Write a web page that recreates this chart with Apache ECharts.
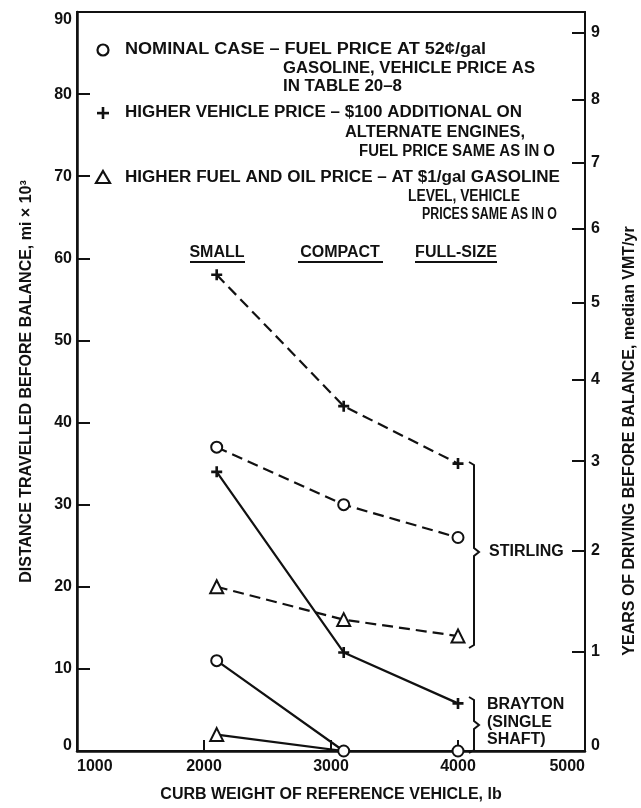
<!DOCTYPE html>
<html>
<head>
<meta charset="utf-8">
<script src="https://cdn.jsdelivr.net/npm/echarts@6/dist/echarts.min.js"></script>
<style>
html,body{margin:0;padding:0;background:#fff;}
#chart{width:641px;height:808px;}
</style>
</head>
<body>
<div id="chart"></div>
<script>
// ---- data ----
const curbWeights = [2100, 3100, 4000];
const stirlingHigherVehiclePrice = [58, 42, 35];
const stirlingNominal = [37, 30, 26];
const stirlingHigherFuelPrice = [20, 16, 14];
const braytonHigherVehiclePrice = [34, 12, 5.8];
const braytonNominal = [11, 0, 0];
const braytonHigherFuelPrice = [2, 0, 0];

const xTickValues = [1000, 2000, 3000, 4000, 5000];
const leftTickValues = [0, 10, 20, 30, 40, 50, 60, 70, 80, 90];
const rightTickYears = [0, 1, 2, 3, 4, 5, 6, 7, 8, 9];
const rightTickDistance = [0, 12.1, 24.4, 35.3, 45.2, 54.6, 63.6, 71.7, 79.3, 87.5];

const FONT = 'Liberation Sans';
const FONTSPEC = 'bold 16px "' + FONT + '"';
const INK = '#111';
const PLUS = 'path://M3.8,0H6.2V3.8H10V6.2H6.2V10H3.8V6.2H0V3.8H3.8Z';

function pairs(ys) { return curbWeights.map((x, i) => [x, ys[i]]); }

function mkSeries(name, ys, dashed, symbol) {
  return {
    name: name,
    type: 'line',
    data: pairs(ys),
    xAxisIndex: 0,
    yAxisIndex: 0,
    symbol: symbol,
    symbolSize: symbol === 'emptyTriangle' ? 13 : 11,
    showSymbol: true,
    lineStyle: { color: INK, width: 2.2, type: dashed ? [11, 6] : 'solid' },
    itemStyle: { color: INK, borderWidth: 2 },
    emphasis: { disabled: true },
    animation: false,
    z: 3
  };
}

const measureCtx = document.createElement('canvas').getContext('2d');
measureCtx.font = FONTSPEC;

// text stretched to span [x0, x1]
function spanText(s, x0, x1, y) {
  const w = measureCtx.measureText(s).width;
  return {
    type: 'text', x: x0, y: y, scaleX: (x1 - x0) / w, originX: 0, originY: 0,
    style: { text: s, font: FONTSPEC, fill: INK, verticalAlign: 'middle', align: 'left' }
  };
}
function txt(s, x, y, align) {
  return { type: 'text', x: x, y: y,
    style: { text: s, font: FONTSPEC, fill: INK, verticalAlign: 'middle', align: align || 'left' } };
}

const chart = echarts.init(document.getElementById('chart'), null, { renderer: 'canvas' });

const braytonFuelSeries = mkSeries('Brayton higher fuel', braytonHigherFuelPrice, false, 'emptyTriangle');
braytonFuelSeries.symbol = function (v) { return v[1] === 0 ? 'none' : 'emptyTriangle'; };

const labelStyle = { fontFamily: FONT, fontWeight: 'bold', fontSize: 16, color: INK };
const zeroRich = { z: { fontFamily: FONT, fontWeight: 'bold', fontSize: 16, color: INK, padding: [0, 0, 10, 0] } };

const option = {
  backgroundColor: '#fff',
  animation: false,
  grid: { left: 77, right: 56, top: 12, bottom: 55, show: true, borderColor: INK, borderWidth: 1.8 },
  xAxis: [{
    type: 'value', min: 1000, max: 5000, interval: 1000,
    name: 'CURB WEIGHT OF REFERENCE VEHICLE, lb',
    nameLocation: 'middle', nameGap: 36,
    nameTextStyle: labelStyle,
    axisLine: { lineStyle: { color: INK, width: 2.5 } },
    axisTick: { inside: true, length: 11, lineStyle: { color: INK, width: 2 } },
    splitLine: { show: false },
    axisLabel: Object.assign({ margin: 8, alignMinLabel: 'left', alignMaxLabel: 'right',
      formatter: function (v) { return String(v); } }, labelStyle)
  }],
  yAxis: [{
    type: 'value', min: 0, max: 90, interval: 10, position: 'left',
    name: 'DISTANCE TRAVELLED BEFORE BALANCE, mi × 10³',
    nameLocation: 'middle', nameGap: 42, nameRotate: 90,
    nameTextStyle: labelStyle,
    axisLine: { show: true, lineStyle: { color: INK, width: 2.5 } },
    axisTick: { inside: true, length: 13, lineStyle: { color: INK, width: 2 } },
    splitLine: { show: false },
    axisLabel: Object.assign({ margin: 5, verticalAlignMaxLabel: 'top', rich: zeroRich,
      formatter: function (v) { return v === 0 ? '{z|0}' : String(v); } }, labelStyle)
  }, {
    type: 'value', min: 0, max: 90, position: 'right',
    axisLine: { show: true, lineStyle: { color: INK, width: 2 } },
    axisTick: { show: true, inside: true, length: 13, customValues: rightTickDistance,
      lineStyle: { color: INK, width: 2 } },
    splitLine: { show: false },
    axisLabel: Object.assign({ show: true, margin: 6, rich: zeroRich,
      customValues: rightTickDistance,
      formatter: function (v) {
        const i = rightTickDistance.findIndex(d => Math.abs(d - v) < 1e-6);
        if (i < 0) return '';
        return rightTickYears[i] === 0 ? '{z|0}' : String(rightTickYears[i]);
      } }, labelStyle)
  }],
  series: [
    mkSeries('Stirling higher vehicle price', stirlingHigherVehiclePrice, true, PLUS),
    mkSeries('Stirling nominal', stirlingNominal, true, 'emptyCircle'),
    mkSeries('Stirling higher fuel', stirlingHigherFuelPrice, true, 'emptyTriangle'),
    mkSeries('Brayton higher vehicle price', braytonHigherVehiclePrice, false, PLUS),
    braytonFuelSeries,
    mkSeries('Brayton nominal', braytonNominal, false, 'emptyCircle')
  ],
  graphic: [
    // legend symbols
    { type: 'circle', shape: { cx: 103, cy: 50, r: 5.5 }, style: { fill: '#fff', stroke: INK, lineWidth: 2.2 } },
    { type: 'rect', shape: { x: 97, y: 111.8, width: 12, height: 2.6 }, style: { fill: INK } },
    { type: 'rect', shape: { x: 101.7, y: 107, width: 2.6, height: 12 }, style: { fill: INK } },
    { type: 'polygon', shape: { points: [[103, 171], [110, 183], [96, 183]] }, style: { fill: '#fff', stroke: INK, lineWidth: 2.2 } },
    // legend text
    spanText('NOMINAL CASE – FUEL PRICE AT 52¢/gal', 125, 486, 50),
    spanText('GASOLINE, VEHICLE PRICE AS', 283, 535, 69),
    spanText('IN TABLE 20–8', 283, 402, 87),
    spanText('HIGHER VEHICLE PRICE – $100 ADDITIONAL ON', 125, 522, 113),
    spanText('ALTERNATE ENGINES,', 345, 525, 133),
    spanText('FUEL PRICE SAME AS IN O', 359, 555, 152),
    spanText('HIGHER FUEL AND OIL PRICE – AT $1/gal GASOLINE', 125, 560, 178),
    spanText('LEVEL, VEHICLE', 408, 520, 197),
    spanText('PRICES SAME AS IN O', 422, 557, 215),
    // category labels with underlines
    txt('SMALL', 217, 253, 'center'),
    txt('COMPACT', 340, 253, 'center'),
    txt('FULL-SIZE', 456, 253, 'center'),
    { type: 'line', shape: { x1: 190, y1: 262, x2: 245, y2: 262 }, style: { stroke: INK, lineWidth: 2 } },
    { type: 'line', shape: { x1: 298, y1: 262, x2: 383, y2: 262 }, style: { stroke: INK, lineWidth: 2 } },
    { type: 'line', shape: { x1: 415, y1: 262, x2: 497, y2: 262 }, style: { stroke: INK, lineWidth: 2 } },
    // braces
    { type: 'polyline', shape: { points: [[469, 462], [474, 465], [474, 548], [479, 552], [474, 556], [474, 645], [469, 648]] },
      style: { stroke: INK, lineWidth: 2, fill: null } },
    { type: 'polyline', shape: { points: [[469, 697], [474, 700], [474, 721], [479, 725], [474, 729], [474, 750], [469, 753]] },
      style: { stroke: INK, lineWidth: 2, fill: null } },
    txt('STIRLING', 489, 552),
    txt('BRAYTON', 487, 705),
    txt('(SINGLE', 487, 723),
    txt('SHAFT)', 487, 740),
    // right axis title
    { type: 'text', x: 630, y: 441, rotation: Math.PI / 2,
      style: { text: 'YEARS OF DRIVING BEFORE BALANCE, median VMT/yr', font: FONTSPEC, fill: INK,
        align: 'center', verticalAlign: 'middle' } }
  ]
};
chart.setOption(option);
</script>
</body>
</html>
